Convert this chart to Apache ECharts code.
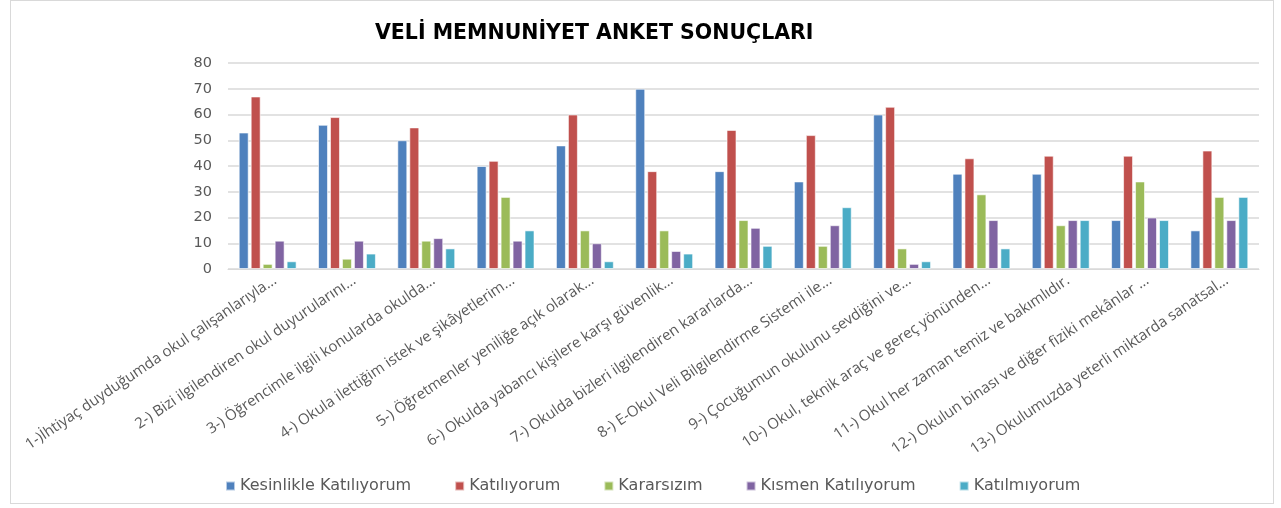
<!DOCTYPE html>
<html><head><meta charset="utf-8">
<script src="https://cdn.jsdelivr.net/npm/echarts@6/dist/echarts.min.js"></script>
<style>
html,body{margin:0;padding:0;background:#fff;}
#frame{position:absolute;left:10px;top:0;width:1264px;height:504px;border:1px solid #d9d9d9;box-sizing:border-box;}
#c{position:absolute;left:0;top:0;width:1281px;height:508px;}
</style></head>
<body><div id="frame"></div><div id="c"></div>
<script>
const categories = [
 "1-)İhtiyaç duyduğumda okul çalışanlarıyla...",
 "2-) Bizi ilgilendiren okul duyurularını...",
 "3-) Öğrencimle ilgili konularda okulda...",
 "4-) Okula ilettiğim istek ve şikâyetlerim...",
 "5-) Öğretmenler yeniliğe açık olarak...",
 "6-) Okulda yabancı kişilere karşı güvenlik...",
 "7-) Okulda bizleri ilgilendiren kararlarda...",
 "8-) E-Okul Veli Bilgilendirme Sistemi ile...",
 "9-) Çocuğumun okulunu sevdiğini ve...",
 "10-) Okul, teknik araç ve gereç yönünden...",
 "11-) Okul her zaman temiz ve bakımlıdır.",
 "12-) Okulun binası ve diğer fiziki mekânlar ...",
 "13-) Okulumuzda yeterli miktarda sanatsal..."
];
const seriesNames = ["Kesinlikle Katılıyorum","Katılıyorum","Kararsızım","Kısmen Katılıyorum","Katılmıyorum"];
const kesinlikle = [53,56,50,40,48,70,38,34,60,37,37,19,15];
const katiliyorum = [67,59,55,42,60,38,54,52,63,43,44,44,46];
const kararsizim = [2,4,11,28,15,15,19,9,8,29,17,34,28];
const kismen = [11,11,12,11,10,7,16,17,2,19,19,20,19];
const katilmiyorum = [3,6,8,15,3,6,9,24,3,8,19,19,28];
const yTicks = [0,10,20,30,40,50,60,70,80];
const colors = ["#4F81BD","#C0504D","#9BBB59","#8064A2","#4BACC6"];
const values = [kesinlikle,katiliyorum,kararsizim,kismen,katilmiyorum];

const chart = echarts.init(document.getElementById('c'));
chart.setOption({
  animation:false,
  title:{text:"VELİ MEMNUNİYET ANKET SONUÇLARI",left:370,top:18,
    textStyle:{fontFamily:"DejaVu Sans",fontSize:20.5,fontWeight:"bold",color:"#000"}},
  legend:{bottom:9,left:220,itemWidth:9,itemHeight:9,itemGap:43,icon:'rect',
    textStyle:{fontFamily:"DejaVu Sans",fontSize:16,color:"#595959"},
    data:seriesNames},
  grid:{left:228,right:22,top:63,bottom:239,containLabel:false},
  xAxis:{type:'category',data:categories,
    axisLine:{lineStyle:{color:'#d9d9d9'}},axisTick:{show:false},
    axisLabel:{rotate:34,interval:0,fontFamily:"Open Sans",fontSize:15,color:"#595959",margin:15,
      padding:[0,-9,0,0]}},
  yAxis:{type:'value',min:yTicks[0],max:yTicks[yTicks.length-1],interval:10,
    axisLine:{show:false},axisTick:{show:false},
    axisLabel:{fontFamily:"DejaVu Sans",fontSize:14.5,color:"#595959",margin:16}},
  series:seriesNames.map((n,i)=>({name:n,type:'bar',data:values[i],
    barGap:'20%',barCategoryGap:'27%',
    itemStyle:{color:colors[i],borderColor:'rgba(255,255,255,0.6)',borderWidth:1}}))
});
chart.setOption({yAxis:{splitLine:{lineStyle:{color:'#d9d9d9',width:1.5}}}});
</script></body></html>
